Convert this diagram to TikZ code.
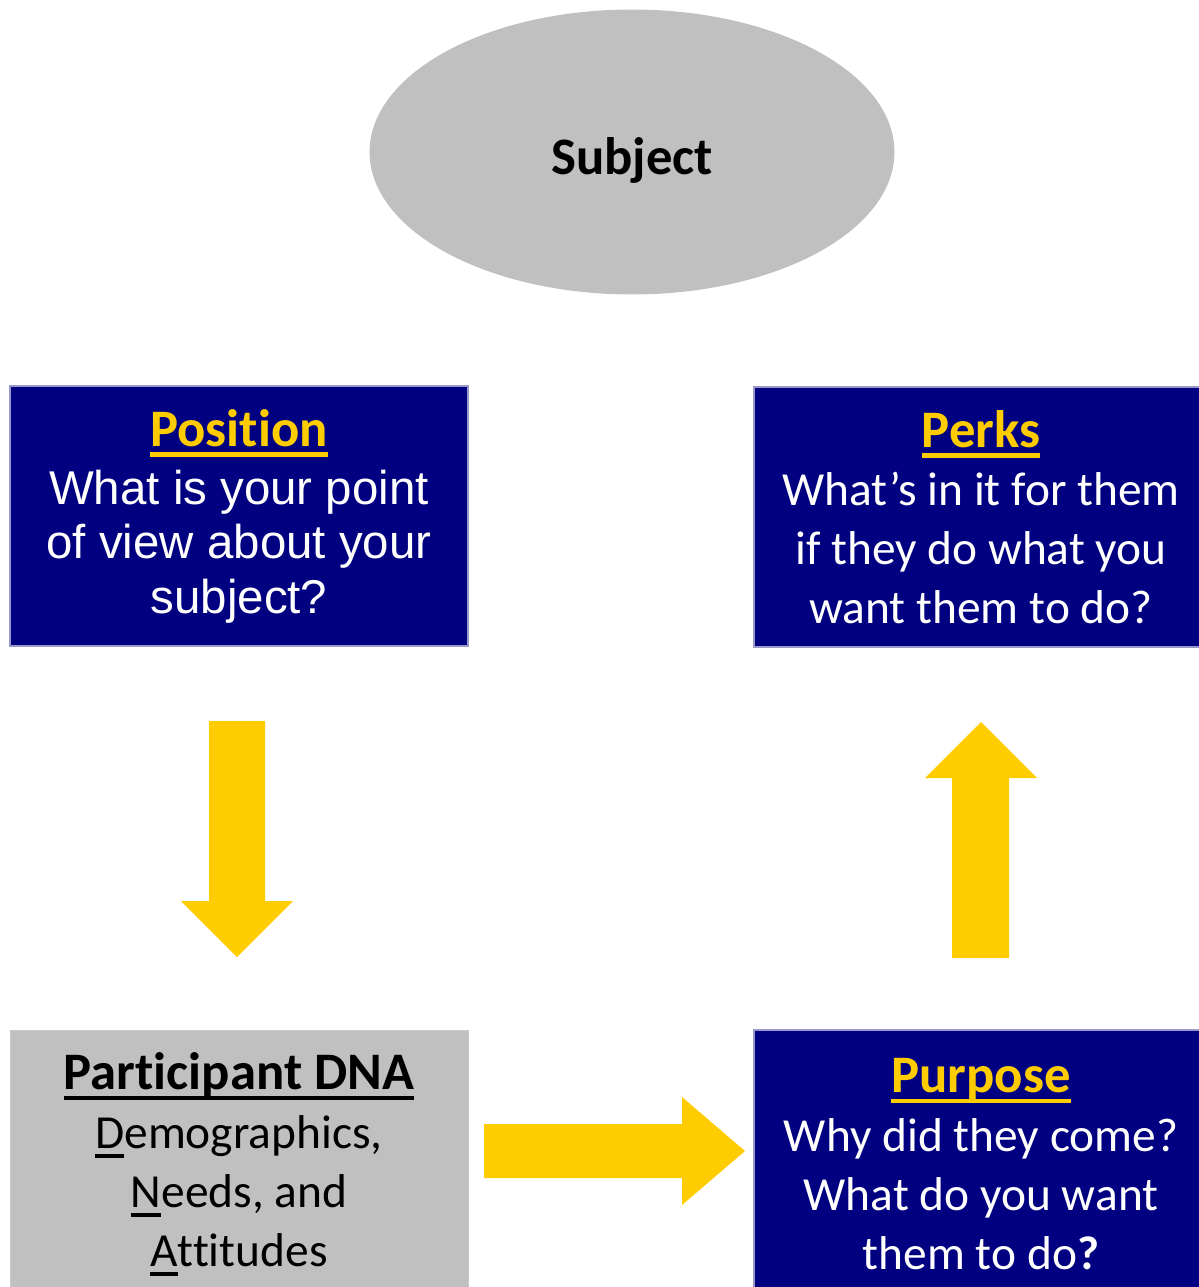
\documentclass[tikz,border=0pt]{standalone}
\usepackage[svgnames]{xcolor}
\usepackage{fontspec}
\setmainfont{Carlito}[Ligatures={TeX,NoCommon}]
\newfontfamily\arialfont{Liberation Sans}
\usetikzlibrary{shapes.geometric}
\definecolor{flowYellow}{HTML}{FFCC00}
\colorlet{boxBlue}{Navy}
\colorlet{boxEdge}{Navy!40!white}
\colorlet{boxGrey}{Silver}
\newcommand\ulword[1]{\setbox0\hbox{#1}\rlap{\rule[-0.2em]{\wd0}{0.085em}}\box0}
\newcommand\boxtitle[1]{{\rmfamily\fontsize{30}{36}\selectfont\bfseries\ulword{#1}}}
\tikzset{
  every box/.style={rectangle,inner sep=0pt,align=center,font=\fontsize{27}{33.5}\selectfont},
  blue box/.style={every box,fill=boxBlue,draw=boxEdge,line width=0.8pt,text=white},
  grey box/.style={every box,fill=boxGrey,draw=Silver!85!white,line width=0.5pt,text=black},
  block arrow/.style={fill=flowYellow},
}
\begin{document}
\begin{tikzpicture}[x=0.02cm,y=-0.02cm]
\useasboundingbox (0,0) rectangle (1198,1287);
\node[ellipse,fill=boxGrey,minimum width=10.5cm,minimum height=5.7cm,
  text height=26pt,text depth=0pt,
  font=\fontsize{30}{36}\selectfont\bfseries] (subject) at (632,152) {Subject};
\node[blue box,minimum width=9.16cm,minimum height=5.2cm,
  font=\arialfont\fontsize{27}{31}\selectfont] (position) at (239,516)
  {\textcolor{flowYellow}{\boxtitle{Position}}\\[2pt]
   What is your point\\ of view about your\\ subject?};
\node[blue box,minimum width=9.08cm,minimum height=5.2cm] (perks) at (981,517)
  {\textcolor{flowYellow}{\boxtitle{Perks}}\\
   What’s in it for them\\ if they do what you\\ want them to do?};
\node[grey box,minimum width=9.16cm,minimum height=5.36cm] (dna) at (239,1164)
  {\boxtitle{Participant DNA}\\
   \ulword{D}emographics,\\ \ulword{N}eeds, and\\ \ulword{A}ttitudes};
\node[blue box,minimum width=9.08cm,minimum height=5.36cm] (purpose) at (981,1164)
  {\textcolor{flowYellow}{\boxtitle{Purpose}}\\
   Why did they come?\\ What do you want\\ them to do\textbf{?}};
% block arrows
\fill[block arrow] (209,721) -- (265,721) -- (265,901) -- (293,901)
  -- (237,957) -- (181,901) -- (209,901) -- cycle;
\fill[block arrow] (484,1124) -- (682,1124) -- (682,1097) -- (745,1151)
  -- (682,1205) -- (682,1178) -- (484,1178) -- cycle;
\fill[block arrow] (952,958) -- (952,778) -- (925,778) -- (981,722)
  -- (1037,778) -- (1009,778) -- (1009,958) -- cycle;
\end{tikzpicture}
\end{document}
